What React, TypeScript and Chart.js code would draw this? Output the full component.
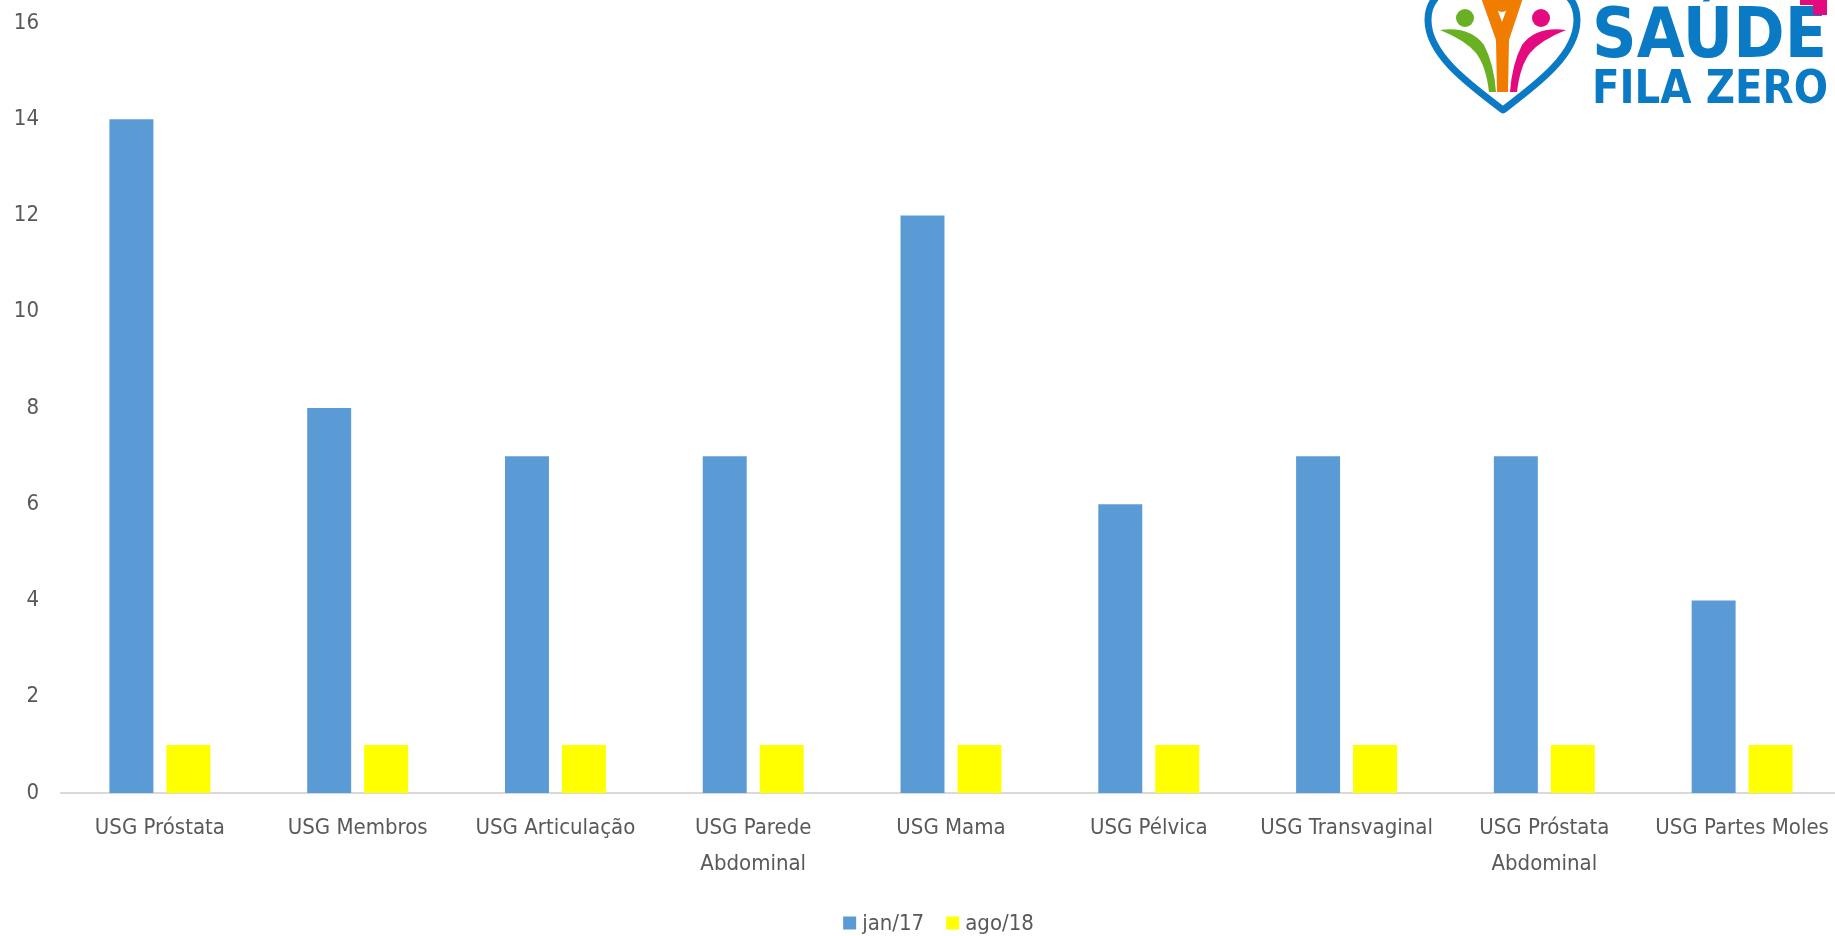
import React, { useEffect, useRef } from "react";
import { Chart, registerables } from "chart.js";

Chart.register(...registerables);

const categories: (string | string[])[] = [
  "USG Próstata",
  "USG Membros",
  "USG Articulação",
  ["USG Parede", "Abdominal"],
  "USG Mama",
  "USG Pélvica",
  "USG Transvaginal",
  ["USG Próstata", "Abdominal"],
  "USG Partes Moles",
];
const seriesNames = ["jan/17", "ago/18"];
const jan17 = [14, 8, 7, 7, 12, 6, 7, 7, 4];
const ago18 = [1, 1, 1, 1, 1, 1, 1, 1, 1];
const yTicks = { min: 0, max: 16, step: 2 };

const FONT = '"DejaVu Sans Condensed", "Liberation Sans Narrow", sans-serif';
const TEXT = "#595959";
const FONT_SIZE = 22;

// Legend drawn below the axis, centred on the reference's legend position.
const bottomLegend = {
  id: "bottomLegend",
  afterDraw(chart: any) {
    const ctx = chart.ctx as CanvasRenderingContext2D;
    const cx = 938.5;
    const cy = 923;
    const box = 13;
    const gapText = 6;
    const gapItem = 22;
    ctx.save();
    ctx.font = `${FONT_SIZE}px ${FONT}`;
    ctx.textBaseline = "middle";
    ctx.textAlign = "left";
    const items = chart.data.datasets.map((d: any) => ({
      text: String(d.label),
      color: d.backgroundColor,
      w: ctx.measureText(String(d.label)).width,
    }));
    const total =
      items.reduce((s: number, it: any) => s + box + gapText + it.w, 0) +
      gapItem * (items.length - 1);
    let x = cx - total / 2;
    for (const it of items) {
      ctx.fillStyle = it.color;
      ctx.fillRect(x, cy - box / 2, box, box);
      ctx.fillStyle = TEXT;
      ctx.fillText(it.text, x + box + gapText, cy + 1);
      x += box + gapText + it.w + gapItem;
    }
    ctx.restore();
  },
};

function Logo() {
  const greenPath = "M 20 30 Q 50 26 64 45 Q 74 64 76 92 L 69 92 Q 66 66 56 53 Q 45 40 20 30 Z";
  return (
    <svg
      width={415}
      height={115}
      style={{ position: "absolute", left: 1420, top: 0, pointerEvents: "none" }}
    >
      <path
        d="M 83 110 C 50 85, 8 55, 8 20 C 8 -15, 50 -25, 83 5 C 116 -25, 157 -15, 157 20 C 157 55, 116 85, 83 110 Z"
        fill="#ffffff"
        stroke="#0a7ac4"
        strokeWidth={7}
        strokeLinejoin="round"
      />
      <path d={greenPath} fill="#6ab023" />
      <circle cx={45} cy={18} r={9} fill="#6ab023" />
      <g transform="translate(166,0) scale(-1,1)">
        <path d={greenPath} fill="#e5097f" />
        <circle cx={45} cy={18} r={9} fill="#e5097f" />
      </g>
      <path
        d="M 60 -5 L 72 -5 L 82 22 L 92 -5 L 104 -5 L 89 40 L 88 92 L 77 92 L 76 40 Z"
        fill="#f07d00"
      />
      <circle cx={82} cy={2} r={10} fill="#f07d00" />
      <text
        x={172}
        y={57}
        fontFamily="DejaVu Sans"
        fontWeight={900}
        fontSize={70}
        fill="#0a7ac4"
        textLength={235}
        lengthAdjust="spacingAndGlyphs"
      >
        SAÚDE
      </text>
      <text
        x={172}
        y={103}
        fontFamily="DejaVu Sans"
        fontWeight={900}
        fontSize={46}
        fill="#0a7ac4"
        textLength={236}
        lengthAdjust="spacingAndGlyphs"
      >
        FILA ZERO
      </text>
      <rect x={380} y={0} width={27} height={5} fill="#e5097f" />
      <rect x={393} y={0} width={14} height={15} fill="#e5097f" />
    </svg>
  );
}

export default function App() {
  const ref = useRef<HTMLCanvasElement | null>(null);

  useEffect(() => {
    if (!ref.current) return;
    const chart = new Chart(ref.current, {
      type: "bar",
      data: {
        labels: categories,
        datasets: [
          {
            label: seriesNames[0],
            data: jan17,
            backgroundColor: "#5b9bd5",
            categoryPercentage: 0.576,
            barPercentage: 0.772,
          },
          {
            label: seriesNames[1],
            data: ago18,
            backgroundColor: "#ffff00",
            categoryPercentage: 0.576,
            barPercentage: 0.772,
          },
        ],
      },
      options: {
        animation: false,
        responsive: false,
        devicePixelRatio: 1,
        layout: { padding: { top: 23, bottom: 0, left: 0, right: 0 } },
        plugins: {
          legend: { display: false },
          tooltip: { enabled: false },
        },
        scales: {
          x: {
            grid: { display: false, drawTicks: false },
            border: { display: true, color: "#d9d9d9", width: 2 },
            ticks: {
              color: TEXT,
              font: { family: FONT, size: FONT_SIZE, lineHeight: 1.6 },
              padding: 18,
              maxRotation: 0,
              autoSkip: false,
            },
            afterFit: (s: any) => {
              s.height = 143;
              s.paddingLeft = 0;
              s.paddingRight = 0;
            },
          },
          y: {
            min: yTicks.min,
            max: yTicks.max,
            grid: { display: false, drawTicks: false },
            border: { display: false },
            ticks: {
              stepSize: yTicks.step,
              color: TEXT,
              font: { family: FONT, size: FONT_SIZE },
              padding: 22,
            },
            afterFit: (s: any) => {
              s.width = 61;
              s.paddingTop = 0;
              s.paddingBottom = 0;
            },
          },
        },
      },
      plugins: [bottomLegend],
    });
    return () => chart.destroy();
  }, []);

  return (
    <div style={{ position: "absolute", left: 0, top: 0, width: 1835, height: 936, background: "#fff", overflow: "hidden" }}>
      <canvas ref={ref} width={1841} height={936} style={{ display: "block" }} />
      <Logo />
    </div>
  );
}
